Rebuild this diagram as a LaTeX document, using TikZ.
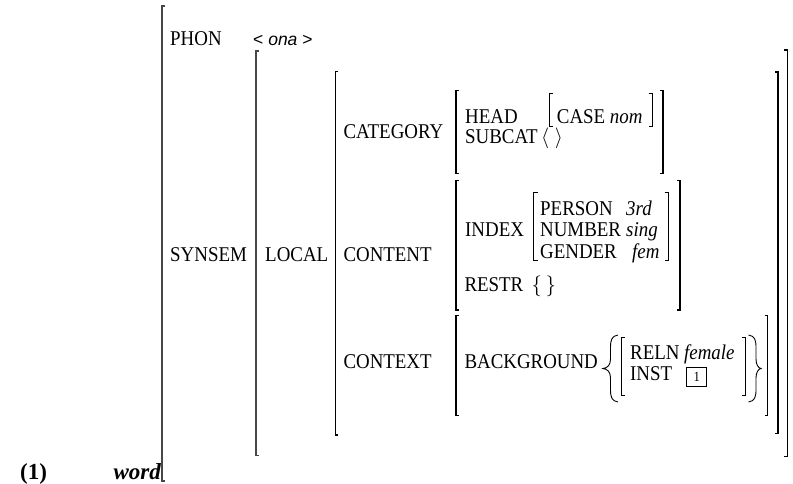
\documentclass[tikz,border=0pt]{standalone}
\usepackage{fontspec}
\setmainfont{Liberation Serif}[FakeStretch=0.9]
\setsansfont{Liberation Sans}
\newfontfamily\exfont{Liberation Serif}
\newcommand\avmfont{\fontsize{21}{23}\selectfont}
\begin{document}
\begin{tikzpicture}[x=1pt,y=-1pt,
  attr/.style={anchor=base west, inner sep=0pt, font=\avmfont},
  val/.style={anchor=base west, inner sep=0pt, font=\avmfont\itshape},
  brk/.style={line width=1.2pt, line cap=butt, line join=miter},
  outerbrk/.style={line width=1.7pt, black!72, line cap=butt, line join=miter},
  thinbrk/.style={line width=0.9pt, line cap=butt, line join=miter},
  tagbox/.style={draw, line width=0.8pt, minimum width=20, minimum height=19.5,
    inner sep=0pt, font=\fontsize{14}{14}\selectfont},
]
\useasboundingbox (0,0) rectangle (793,483);

% example number and type
\node[anchor=base west, inner sep=0pt, font=\exfont\fontsize{23}{25}\selectfont\bfseries] (num) at (20,479) {(1)};
\begin{scope}
  \clip (0,0) rectangle (161.5,483);
  \node[anchor=base west, inner sep=0pt, font=\exfont\fontsize{23}{25}\selectfont\bfseries\itshape] (type) at (113.3,479) {word};
\end{scope}

% outer bracket of the word
\draw[outerbrk] (165.3,6) -| (162.3,481) -- ++(3,0);

% PHON
\node[attr] (phon) at (170,45) {PHON};
\node[anchor=base west, inner sep=0pt, font=\sffamily\fontsize{17.5}{20}\selectfont] (phonval) at (253,45) {< \textit{ona} >};

% SYNSEM
\node[attr] (synsem) at (170,261.7) {SYNSEM};
\draw[outerbrk] (259,50.7) -| (256,455.5) -- ++(3,0);
\draw[brk] (784.3,50) -| (787.3,456.7) -- ++(-3,0);

% LOCAL
\node[attr] (local) at (265,261.7) {LOCAL};
\draw[brk] (338.3,71.7) -| (335.3,435) -- ++(3,0);
\draw[brk] (775,72) -| (778,433.3) -- ++(-3,0);

% CATEGORY
\node[attr] (category) at (343.3,138) {CATEGORY};
\draw[brk] (459,90.7) -| (456,173.3) -- ++(3,0);
\draw[brk] (660,90.7) -| (663,173.3) -- ++(-3,0);
\node[attr] (head) at (465,123.3) {HEAD};
\draw[thinbrk] (553.3,93.3) -| (549.3,126.7) -- ++(4,0);
\node[attr] (case) at (556.7,123.3) {CASE \textit{nom}};
\draw[thinbrk] (648.7,93.3) -| (652.7,126.7) -- ++(-4,0);
\node[attr] (subcat) at (465,143.3) {SUBCAT};
\node[attr] (subcatval) at (541,143.3) {$\left\langle\rule[-6pt]{0pt}{21pt}\;\right\rangle$};

% CONTENT
\node[attr] (content) at (343.3,261.7) {CONTENT};
\draw[brk] (459,180.7) -| (456,310) -- ++(3,0);
\draw[brk] (677,180.7) -| (680,310) -- ++(-3,0);
\node[attr] (index) at (465,236) {INDEX};
\draw[thinbrk] (537.5,192.7) -| (533.5,260) -- ++(4,0);
\draw[thinbrk] (664.5,192.7) -| (668.5,260) -- ++(-4,0);
\node[attr] (person) at (540,215) {PERSON};
\node[val] (personval) at (626,215) {3rd};
\node[attr] (number) at (540,236.7) {NUMBER};
\node[val] (numberval) at (626,236.7) {sing};
\node[attr] (gender) at (540,258.3) {GENDER};
\node[val] (genderval) at (632,258.3) {fem};
\node[attr] (restr) at (464.3,291.7) {RESTR};
\node[attr] (restrval) at (531.5,291.7) {$\left\{\rule[-6pt]{0pt}{22pt}\,\right\}$};

% CONTEXT
\node[attr] (context) at (343.3,368.3) {CONTEXT};
\draw[brk] (459,315.7) -| (456,415.7) -- ++(3,0);
\draw[brk] (764.7,315.7) -| (767.7,415.7) -- ++(-3,0);
\node[attr] (background) at (464.3,368.3) {BACKGROUND};
% set braces around the background relation
\draw[thinbrk] (618,335) .. controls (611.5,336) and (610.5,340) .. (610.5,348)
  -- (610.5,359) .. controls (610.5,365) and (607.5,368) .. (603,368.5)
  .. controls (607.5,369) and (610.5,372) .. (610.5,378)
  -- (610.5,389) .. controls (610.5,397) and (611.5,401) .. (618,402);
\draw[thinbrk] (748.5,335) .. controls (755,336) and (756,340) .. (756,348)
  -- (756,359) .. controls (756,365) and (758.5,368) .. (761,368.5)
  .. controls (758.5,369) and (756,372) .. (756,378)
  -- (756,389) .. controls (756,397) and (755,401) .. (748.5,402);
\draw[thinbrk] (625,337) -| (621,395) -- ++(4,0);
\draw[thinbrk] (741.5,337) -| (745.5,395) -- ++(-4,0);
\node[attr] (reln) at (630,359) {RELN};
\node[val] (relnval) at (684,359) {female};
\node[attr] (inst) at (630,380.5) {INST};
\node[tagbox] (tag) at (696.7,376.8) {1};
\end{tikzpicture}
\end{document}
